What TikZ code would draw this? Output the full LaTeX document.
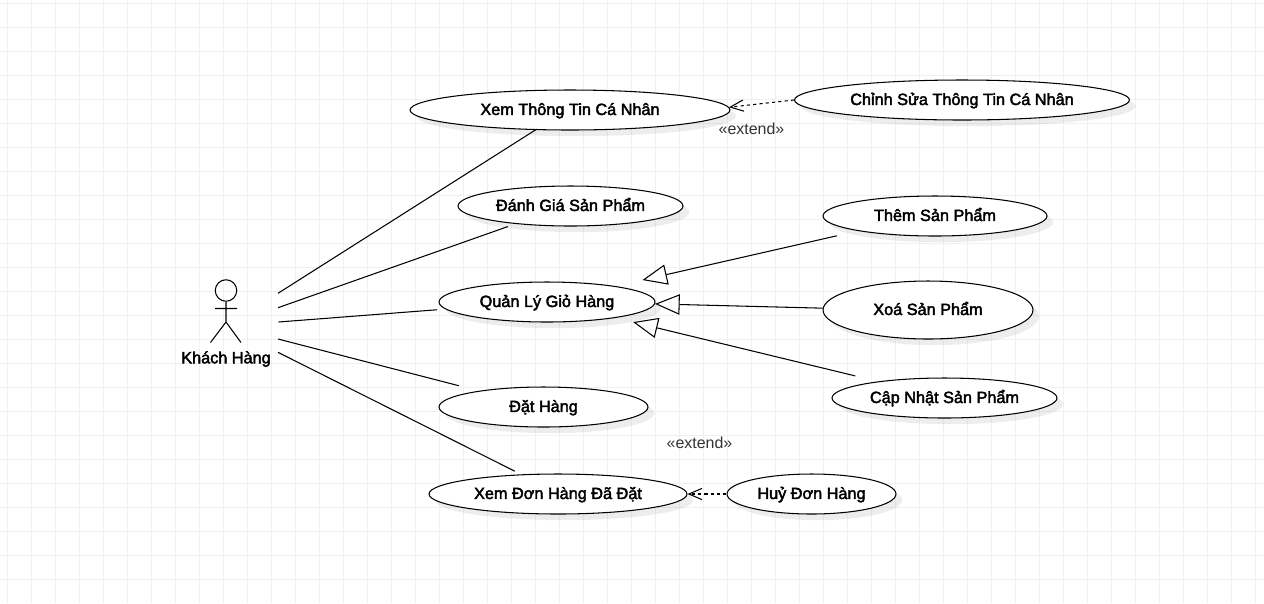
\documentclass[tikz,border=0pt]{standalone}
\usepackage{fontspec}
\setmainfont{Liberation Sans}
\newfontfamily\ucfont{Liberation Sans}[FakeBold=2.5]
\usetikzlibrary{arrows.meta,shadows,shapes.geometric}
\definecolor{GridLine}{HTML}{F0F0F0}
\definecolor{ShadowGrey}{HTML}{808080}
\definecolor{NoteText}{HTML}{333333}
\begin{document}
\begin{tikzpicture}[x=0.02cm,y=-0.02cm,
      gridline/.style={draw=GridLine,line width=0.57pt},
      usecase/.style={ellipse,draw=black,fill=white,line width=0.6pt,inner sep=0pt,align=center,
        font=\fontsize{9.25pt}{11pt}\ucfont,text height=7.67pt,text depth=2pt,
        drop shadow={shadow xshift=3.5pt,shadow yshift=-3.5pt,fill=ShadowGrey,opacity=0.14}},
      assoc/.style={line width=0.6pt},
      gen/.style={line width=0.6pt,-{Triangle[open,fill=white,length=14pt,width=11.6pt]}},
      ext/.style={line width=0.6pt,dash pattern=on 1.8pt off 1.8pt,-{Straight Barb[length=7.5pt,width=6.4pt]}},
      stereo/.style={font=\fontsize{9.07pt}{11pt}\selectfont,text=NoteText,inner sep=0pt}]
      \useasboundingbox[fill=white] (0,0) rectangle (1264,603);
      \foreach \gx in {7.5,31.5,...,1264}
        \draw[gridline] (\gx,0) -- (\gx,603);
      \foreach \gy in {3.5,27.5,...,603}
        \draw[gridline] (0,\gy) -- (1264,\gy);

      \node[usecase,minimum width=6.4cm,minimum height=0.8cm] (xemtt) at (570,110) {Xem Thông Tin Cá Nhân};
      \node[usecase,minimum width=6.7cm,minimum height=0.8cm] (chinhsua) at (962,100) {Chỉnh Sửa Thông Tin Cá Nhân};
      \node[usecase,minimum width=4.5cm,minimum height=0.8cm] (danhgia) at (570.5,206) {Đánh Giá Sản Phẩm};
      \node[usecase,minimum width=4.48cm,minimum height=0.8cm] (them) at (935,216) {Thêm Sản Phẩm};
      \node[usecase,minimum width=4.32cm,minimum height=0.8cm] (quanly) at (547,302) {Quản Lý Giỏ Hàng};
      \node[usecase,minimum width=4.2cm,minimum height=1.16cm] (xoa) at (928,310) {Xoá Sản Phẩm};
      \node[usecase,minimum width=4.5cm,minimum height=0.8cm] (capnhat) at (944.5,398) {Cập Nhật Sản Phẩm};
      \node[usecase,minimum width=4.18cm,minimum height=0.8cm] (dathang) at (543.5,407) {Đặt Hàng};
      \node[usecase,minimum width=5.16cm,minimum height=0.8cm] (xemdon) at (558,494) {Xem Đơn Hàng Đã Đặt};
      \node[usecase,minimum width=3.38cm,minimum height=0.8cm] (huy) at (811.5,494) {Huỷ Đơn Hàng};

      \node[circle,draw=black,line width=0.6pt,minimum size=0.43cm,inner sep=0pt] (head) at (226,290.5) {};
      \coordinate (hip) at (226,322);
      \coordinate (armL) at (215,308.5);
      \coordinate (armR) at (237,308.5);
      \coordinate (footL) at (210.5,342.5);
      \coordinate (footR) at (241,342.5);
      \draw[assoc] (head.south) -- (hip) (armL) -- (armR) (footL) -- (hip) -- (footR);
      \node[font=\fontsize{9.25pt}{11pt}\ucfont,inner sep=0pt] (khach) at (226,359) {Khách Hàng};

      \coordinate (actA) at (278,293.3);
      \coordinate (actB) at (278,307.7);
      \coordinate (actC) at (278.5,322);
      \coordinate (actD) at (278,339);
      \coordinate (actE) at (278,352.3);
      \draw[assoc,shorten >=-1pt] (actA) -- (xemtt.210);
      \draw[assoc,shorten >=4.6pt] (actB) -- (danhgia.198.6);
      \draw[assoc,shorten >=4.6pt] (actC) -- (quanly.184.15);
      \draw[assoc,shorten >=11.7pt] (actD) -- (dathang.166.1);
      \draw[assoc,shorten >=4pt] (actE) -- (xemdon.152.9);

      \draw[gen,shorten <=12.3pt,shorten >=15.6pt] (them.191.6) -- (quanly.13);
      \draw[gen] (xoa.179) -- (quanly.-1);
      \draw[gen,shorten <=13.3pt,shorten >=10.2pt] (capnhat.166.8) -- (quanly.-13.3);

      \draw[ext] (chinhsua.west) -- (xemtt.1.5);
      \draw[ext] (huy.west) -- (xemdon.east);
      \node[stereo] (extA) at (751.5,129) {«extend»};
      \node[stereo] (extB) at (699.5,443) {«extend»};
    \end{tikzpicture}
\end{document}
